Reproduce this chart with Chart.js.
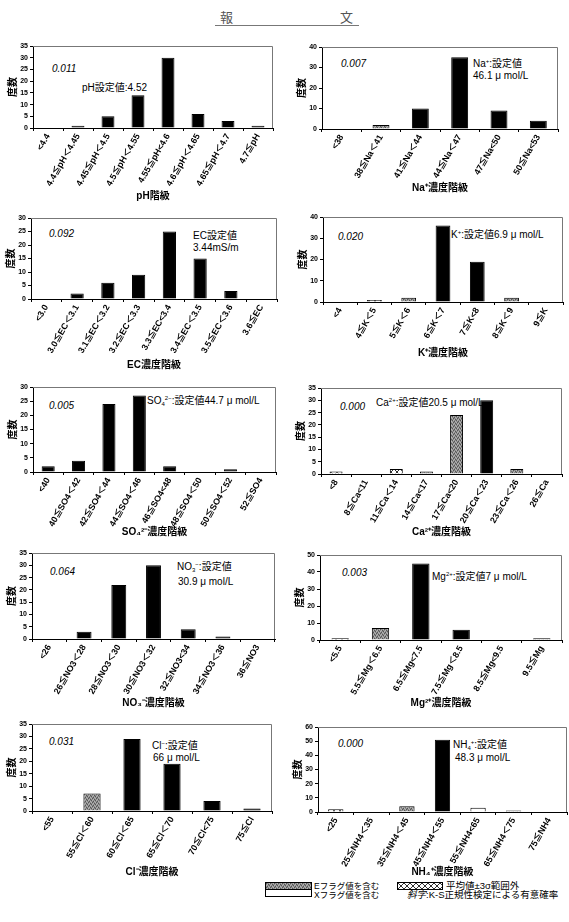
<!DOCTYPE html>
<html><head><meta charset="utf-8">
<script src="https://cdn.jsdelivr.net/npm/chart.js@4.4.1/dist/chart.umd.min.js"></script>
<style>
body{margin:0;background:#fff;width:569px;height:922px;position:relative;overflow:hidden;font-family:'Liberation Sans','Noto Sans CJK JP',sans-serif;}
canvas{position:absolute;}
.t{position:absolute;white-space:nowrap;font-size:10px;line-height:10px;color:#000;}
.i{font-style:italic;}
sup{font-size:6px;vertical-align:4px;line-height:0;}
sub{font-size:6px;vertical-align:-2px;line-height:0;}
.hd{position:absolute;font-size:13px;color:#555;line-height:13px;font-family:'Noto Sans CJK JP',serif;}
.box{position:absolute;border:1px solid #000;box-sizing:border-box;}
</style></head><body>

<div class="hd" style="left:220px;top:10px">報</div>
<div class="hd" style="left:340px;top:10px">文</div>
<div style="position:absolute;left:215px;top:25px;width:144px;height:1px;background:#777"></div>

<!-- annotations -->
<div class="t i" style="left:52px;top:64px">0.011</div>
<div class="t" style="left:82px;top:83px">pH設定値:4.52</div>

<div class="t i" style="left:341px;top:59px">0.007</div>
<div class="t" style="left:473px;top:59px">Na<sup>+</sup>:設定値</div>
<div class="t" style="left:473px;top:71px">46.1 μ mol/L</div>

<div class="t i" style="left:49px;top:229px">0.092</div>
<div class="t" style="left:193px;top:231px">EC設定値</div>
<div class="t" style="left:193px;top:243px">3.44mS/m</div>

<div class="t i" style="left:338px;top:232px">0.020</div>
<div class="t" style="left:451px;top:230px">K<sup>+</sup>:設定値6.9 μ mol/L</div>

<div class="t i" style="left:49px;top:401px">0.005</div>
<div class="t" style="left:147px;top:396px">SO<sub>4</sub><sup>2−</sup>:設定値44.7 μ mol/L</div>

<div class="t i" style="left:340px;top:402px">0.000</div>
<div class="t" style="left:376px;top:398px">Ca<sup>2+</sup>:設定値20.5 μ mol/L</div>

<div class="t i" style="left:50px;top:567px">0.064</div>
<div class="t" style="left:177px;top:562px">NO<sub>3</sub><sup>−</sup>:設定値</div>
<div class="t" style="left:178px;top:577px">30.9 μ mol/L</div>

<div class="t i" style="left:342px;top:568px">0.003</div>
<div class="t" style="left:432px;top:572px">Mg<sup>2+</sup>:設定値7 μ mol/L</div>

<div class="t i" style="left:49px;top:737px">0.031</div>
<div class="t" style="left:152px;top:741px">Cl<sup>−</sup>:設定値</div>
<div class="t" style="left:153px;top:753px">66 μ mol/L</div>

<div class="t i" style="left:338px;top:739px">0.000</div>
<div class="t" style="left:453px;top:740px">NH<sub>4</sub><sup>+</sup>:設定値</div>
<div class="t" style="left:455px;top:753px">48.3 μ mol/L</div>

<!-- legend -->
<div class="box" id="lgE" style="left:265px;top:882px;width:47px;height:8px;"></div>
<div class="box" style="left:265px;top:889px;width:47px;height:8px;background:#fff"></div>
<div class="t" style="left:314px;top:881px;font-size:8.5px">Eフラグ値を含む</div>
<div class="t" style="left:314px;top:890px;font-size:8.5px">Xフラグ値を含む</div>
<div class="box" id="lgS" style="left:397px;top:882px;width:46px;height:8px;"></div>
<div class="t" style="left:446px;top:881px;font-size:9.5px">平均値±3σ範囲外</div>
<div class="t" style="left:407px;top:890px;font-size:9.5px"><span class="i">斜字</span>:K-S正規性検定による有意確率</div>

<script>
// ---------- data ----------
const phLabels = ['<4.4','4.4≦pH＜4.45','4.45≦pH＜4.5','4.5≦pH＜4.55','4.55≦pH<4.6','4.6≦pH＜4.65','4.65≦pH＜4.7','4.7≦pH'];
const phCounts = [0,1,5,14,30,6,3,1];
const phFlags  = ['','','','','','','',''];

const naLabels = ['<38','38≦Na＜41','41≦Na＜44','44≦Na＜47','47≦Na<50','50≦Na<53'];
const naCounts = [0,2,10,35,9,4];
const naFlags  = ['','E','','','',''];

const ecLabels = ['<3.0','3.0≦EC＜3.1','3.1≦EC＜3.2','3.2≦EC＜3.3','3.3≦EC<3.4','3.4≦EC＜3.5','3.5≦EC＜3.6','3.6≦EC'];
const ecCounts = [0,2,6,9,25,15,3,0];
const ecFlags  = ['','','','','','','',''];

const kLabels = ['<4','4≦K＜5','5≦K＜6','6≦K＜7','7≦K<8','8≦K＜9','9≦K'];
const kCounts = [0,1,2,36,19,2,0];
const kFlags  = ['','S','E','','','E',''];

const so4Labels = ['<40','40≦SO4＜42','42≦SO4＜44','44≦SO4＜46','46≦SO4<48','48≦SO4＜50','50≦SO4＜52','52≦SO4'];
const so4Counts = [2,4,24,27,2,0,1,0];
const so4Flags  = ['','','','','','','',''];

const caLabels = ['<8','8≦Ca<11','11≦Ca＜14','14≦Ca<17','17≦Ca<20','20≦Ca＜23','23≦Ca＜26','26≦Ca'];
const caCounts = [1,0,2,1,24,30,2,0];
const caFlags  = ['S','','S','E','E','','E',''];

const no3Labels = ['<26','26≦NO3＜28','28≦NO3＜30','30≦NO3＜32','32≦NO3<34','34≦NO3＜36','36≦NO3'];
const no3Counts = [0,3,22,30,4,1,0];
const no3Flags  = ['','','','','','',''];

const mgLabels = ['<5.5','5.5≦Mg＜6.5','6.5≦Mg<7.5','7.5≦Mg＜8.5','8.5≦Mg<9.5','9.5≦Mg'];
const mgCounts = [1,7,45,6,0,1];
const mgFlags  = ['S','E','','','','E'];

const clLabels = ['<55','55≦Cl＜60','60≦Cl＜65','65≦Cl＜70','70≦Cl<75','75≦Cl'];
const clCounts = [0,7,29,19,4,1];
const clFlags  = ['','E','','','',''];

const nh4Labels = ['<25','25≦NH4＜35','35≦NH4＜45','45≦NH4＜55','55≦NH4<65','65≦NH4＜75','75≦NH4'];
const nh4Counts = [2,0,4,51,3,1,0];
const nh4Flags  = ['S','','E','','X','E',''];

const axisTitles = ['pH階級','Na⁺濃度階級','EC濃度階級','K⁺濃度階級','SO₄²⁻濃度階級','Ca²⁺濃度階級','NO₃⁻濃度階級','Mg²⁺濃度階級','Cl⁻濃度階級','NH₄⁺濃度階級'];
const yMax  = [35,40,30,40,30,35,35,50,35,60];
const yStep = [5,5,5,5,5,5,5,5,5,10];

// ---------- layout ----------
const boxes = [
  {L:33,R:273,T:46,B:128,tY:196},
  {L:322,R:558,T:47,B:129,tY:188},
  {L:31,R:277,T:218,B:299,tY:365},
  {L:323,R:563,T:217,B:302,tY:353},
  {L:33,R:276,T:387,B:472,tY:532},
  {L:321,R:562,T:388,B:474,tY:532},
  {L:32,R:275,T:553,B:639,tY:703},
  {L:320,R:562,T:555,B:640,tY:703},
  {L:32,R:272,T:724,B:811,tY:872},
  {L:318,R:567,T:727,B:812,tY:872}
];

const FONT = "'Liberation Sans','Noto Sans CJK JP',sans-serif";

function patternE(){
  const p=document.createElement('canvas'); p.width=4; p.height=4;
  const g=p.getContext('2d');
  g.fillStyle='#8c8c8c'; g.fillRect(0,0,4,4);
  g.fillStyle='#555'; [[0,0],[2,1],[1,3],[3,2]].forEach(a=>g.fillRect(a[0],a[1],1,1));
  g.fillStyle='#b5b5b5'; [[1,1],[3,0],[0,2],[2,3]].forEach(a=>g.fillRect(a[0],a[1],1,1));
  return p;
}
function patternS(){
  const p=document.createElement('canvas'); p.width=6; p.height=6;
  const g=p.getContext('2d');
  g.fillStyle='#fff'; g.fillRect(0,0,6,6);
  g.strokeStyle='#333'; g.lineWidth=1;
  g.beginPath(); g.moveTo(0,0); g.lineTo(6,6); g.moveTo(6,0); g.lineTo(0,6); g.stroke();
  return p;
}
const pE = patternE(), pS = patternS();
document.getElementById('lgE').style.background='url('+pE.toDataURL()+')';
document.getElementById('lgS').style.background='url('+pS.toDataURL()+')';

const framePlugin = {
  id:'frame',
  beforeDatasetsDraw(chart){
    const {ctx, chartArea:a} = chart;
    ctx.save(); ctx.strokeStyle='#777'; ctx.lineWidth=1;
    ctx.beginPath();
    ctx.moveTo(a.left, Math.round(a.top)+0.5);
    ctx.lineTo(Math.round(a.right)-0.5, Math.round(a.top)+0.5);
    ctx.lineTo(Math.round(a.right)-0.5, a.bottom);
    ctx.stroke(); ctx.restore();
  }
};

function build(i, labels, counts, flags){
  const b = boxes[i];
  const yW = 32, padT = 6, padR = 3;
  const XH = b.tY + 6 - b.B;
  const w = b.R - b.L + yW + padR;
  const h = b.tY + 6 - b.T + padT;
  const c = document.createElement('canvas');
  c.width = w; c.height = h;
  c.style.left = (b.L - yW) + 'px'; c.style.top = (b.T - padT) + 'px';
  c.style.width = w + 'px'; c.style.height = h + 'px';
  document.body.appendChild(c);
  const ctx = c.getContext('2d');
  const fills = flags.map(f => f==='E' ? ctx.createPattern(pE,'repeat') : f==='S' ? ctx.createPattern(pS,'repeat') : f==='X' ? '#fff' : '#000');
  new Chart(c, {
    type:'bar',
    data:{labels:labels, datasets:[{data:counts, backgroundColor:fills, borderColor:'#000', borderWidth:1, barPercentage:0.43, categoryPercentage:1}]},
    options:{
      responsive:false, animation:false, devicePixelRatio:1,
      layout:{padding:{top:padT, right:padR, left:0, bottom:0}},
      plugins:{legend:{display:false}, tooltip:{enabled:false}},
      scales:{
        x:{
          ticks:{font:{size:8.8, weight:'bold', family:FONT}, color:'#000', maxRotation:60, minRotation:60, autoSkip:false, padding:1},
          grid:{offset:true, drawOnChartArea:false, tickLength:3, color:'#000'},
          border:{color:'#000'},
          title:{display:true, text:axisTitles[i], font:{size:10, weight:'bold', family:FONT}, color:'#000', padding:0},
          afterFit(s){ s.height = XH; s.paddingLeft = 0; s.paddingRight = 0; }
        },
        y:{
          min:0, max:yMax[i],
          ticks:{stepSize:yStep[i], font:{size:7, weight:'bold', family:FONT}, color:'#000', padding:2},
          grid:{drawOnChartArea:false, tickLength:3, color:'#000'},
          border:{color:'#000'},
          title:{display:true, text:'度数', font:{size:10, weight:'bold', family:FONT}, color:'#000', padding:{top:6, bottom:0}},
          afterFit(s){ s.width = yW; s.paddingTop = 0; s.paddingBottom = 0; }
        }
      }
    },
    plugins:[framePlugin]
  });
}

build(0, phLabels, phCounts, phFlags);
build(1, naLabels, naCounts, naFlags);
build(2, ecLabels, ecCounts, ecFlags);
build(3, kLabels, kCounts, kFlags);
build(4, so4Labels, so4Counts, so4Flags);
build(5, caLabels, caCounts, caFlags);
build(6, no3Labels, no3Counts, no3Flags);
build(7, mgLabels, mgCounts, mgFlags);
build(8, clLabels, clCounts, clFlags);
build(9, nh4Labels, nh4Counts, nh4Flags);
</script>
</body></html>
